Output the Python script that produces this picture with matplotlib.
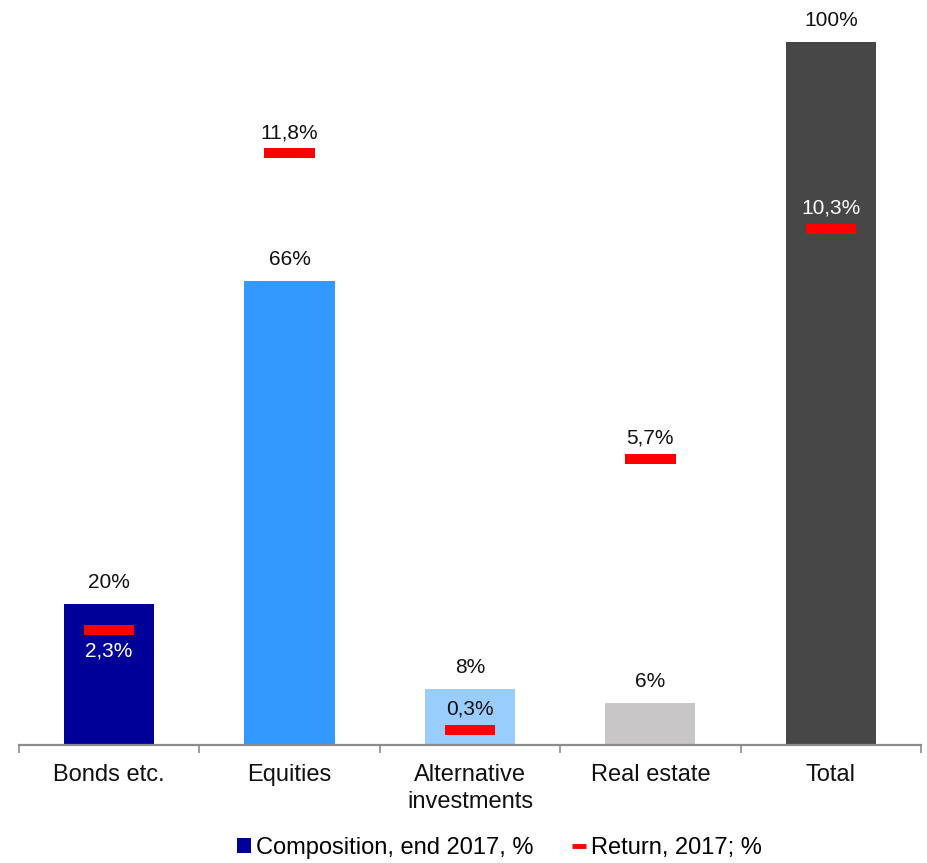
import numpy as np
import matplotlib
matplotlib.use("Agg")
import matplotlib.pyplot as plt
from matplotlib.patches import Patch
from matplotlib.lines import Line2D

plt.rcParams['font.family'] = ['Liberation Sans', 'DejaVu Sans']

categories = ["Bonds etc.", "Equities", "Alternative\ninvestments", "Real estate", "Total"]
composition = [20, 66, 8, 6, 100]          # % of portfolio, end 2017
returns = [2.3, 11.8, 0.3, 5.7, 10.3]      # % return, 2017
bar_colors = ["#000099", "#3399FF", "#99CCFF", "#C8C6C6", "#474747"]
# where the return label sits relative to its marker, and its colour
ret_label_below = [True, False, False, False, False]
ret_label_color = ["white", "#111111", "#111111", "#111111", "white"]

fig = plt.figure(figsize=(9.28, 8.63), dpi=100)
ax = fig.add_axes([0.0203, 0.1367, 0.9722, 0.8146])
ax2 = ax.twinx()

x = np.arange(len(categories))
ax.bar(x, composition, width=0.5, color=bar_colors, zorder=2)
ax.set_xlim(-0.5, len(categories) - 0.5)
ax.set_ylim(0, 100)
ax2.set_ylim(0, 14.02)

for xi, v in zip(x, composition):
    ax.annotate(f"{v}%", (xi, v), xytext=(0, 11.5), textcoords="offset points",
                ha="center", va="baseline", fontsize=15, color="#111111")

# return markers on the secondary axis
ax2.hlines(returns, x - 0.14, x + 0.14, colors="#FF0000", linewidth=7.2, zorder=3)
for xi, r, below, c in zip(x, returns, ret_label_below, ret_label_color):
    lbl = f"{r:.1f}%".replace(".", ",")
    if below:
        ax2.annotate(lbl, (xi, r), xytext=(0, -19.5), textcoords="offset points",
                     ha="center", va="baseline", fontsize=15, color=c)
    else:
        ax2.annotate(lbl, (xi, r), xytext=(0, 11), textcoords="offset points",
                     ha="center", va="baseline", fontsize=15, color=c)

for a in (ax, ax2):
    for s in ("top", "right", "left"):
        a.spines[s].set_visible(False)
    a.set_yticks([])
ax.spines["bottom"].set_color("#8c8c8c")
ax.spines["bottom"].set_linewidth(1.6)
ax2.spines["bottom"].set_visible(False)

# boundary ticks, category names on minor ticks
ax.set_xticks(np.arange(-0.5, len(categories), 1.0))
ax.set_xticklabels([])
ax.tick_params(axis="x", which="major", length=6, width=1.2, color="#8c8c8c", direction="out")
ax.set_xticks(x, minor=True)
ax.set_xticklabels(categories, minor=True, fontsize=17, color="#111111", linespacing=1.25)
ax.tick_params(axis="x", which="minor", length=0, pad=14)

handles = [Patch(facecolor="#000099", edgecolor="none"),
           Line2D([0], [0], color="#FF0000", linewidth=3.5, solid_capstyle="butt")]
fig.legend(handles, ["Composition, end 2017, %", "Return, 2017; %"],
           loc="center", bbox_to_anchor=(0.538, 0.0174), ncol=2, frameon=False,
           fontsize=17, handlelength=0.6, handleheight=0.6, handletextpad=0.2,
           columnspacing=1.65, borderaxespad=0)

fig.savefig("out.png", dpi=100)
